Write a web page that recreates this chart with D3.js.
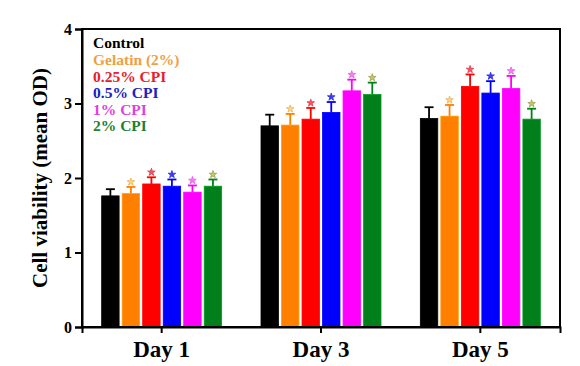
<!DOCTYPE html>
<html>
<head>
<meta charset="utf-8">
<script src="https://cdn.jsdelivr.net/npm/d3@7"></script>
<style>
  body { margin: 0; background: #fff; }
  svg text { font-family: "Liberation Serif", "DejaVu Serif", serif; font-weight: bold; }
</style>
</head>
<body>
<div id="chart"></div>
<script>
  var days = ['Day 1', 'Day 3', 'Day 5'];
  var groups = ['Control', 'Gelatin (2%)', '0.25% CPI', '0.5% CPI', '1% CPI', '2% CPI'];
  var barColors = ['#000000', '#ff7f00', '#ff0000', '#0000ff', '#ff00ff', '#007f1a'];
  var labelColors = ['#000000', '#f0a040', '#e8202a', '#2020c0', '#e040e0', '#208030'];
  var starColors = [null, '#e8b060', '#e04050', '#3030d0', '#e060e0', '#a0a050'];
  // mean OD per group, one array per day
  var day1 = [1.76, 1.79, 1.92, 1.89, 1.81, 1.89];
  var day3 = [2.70, 2.71, 2.79, 2.88, 3.17, 3.12];
  var day5 = [2.80, 2.83, 3.23, 3.14, 3.20, 2.79];
  var err1 = [0.09, 0.09, 0.09, 0.09, 0.09, 0.09];
  var err3 = [0.15, 0.15, 0.15, 0.14, 0.15, 0.16];
  var err5 = [0.15, 0.15, 0.16, 0.16, 0.17, 0.14];
  var yTicks = [0, 1, 2, 3, 4];

  var means = [day1, day3, day5];
  var errs = [err1, err3, err5];

  var width = 580, height = 366;
  var margin = { top: 29, right: 20, bottom: 39, left: 82 };
  var innerW = width - margin.left - margin.right;
  var innerH = height - margin.top - margin.bottom;

  var svg = d3.select('#chart').append('svg')
    .attr('width', width)
    .attr('height', height);

  var g = svg.append('g')
    .attr('transform', 'translate(' + margin.left + ',' + margin.top + ')');

  var x = d3.scaleBand().domain(days).range([0, innerW]).padding(0);
  var y = d3.scaleLinear().domain([0, 4]).range([innerH, 0]);

  var groupW = 120;
  var x1 = d3.scaleBand().domain(groups).range([0, groupW]).paddingInner(0.15).paddingOuter(0);

  // bars
  days.forEach(function (day, di) {
    var gx = x(day) + x.bandwidth() / 2 - groupW / 2;
    var dg = g.append('g').attr('transform', 'translate(' + gx + ',0)');

    groups.forEach(function (grp, gi) {
      var v = means[di][gi];
      var e = errs[di][gi];
      var bx = x1(grp);
      var bw = x1.bandwidth();
      var cx = bx + bw / 2;

      // error bar
      dg.append('line')
        .attr('x1', cx).attr('x2', cx)
        .attr('y1', y(v)).attr('y2', y(v + e))
        .attr('stroke', barColors[gi]).attr('stroke-width', 1.8);
      dg.append('line')
        .attr('x1', cx - 4.5).attr('x2', cx + 4.5)
        .attr('y1', y(v + e)).attr('y2', y(v + e))
        .attr('stroke', barColors[gi]).attr('stroke-width', 1.8);

      dg.append('rect')
        .attr('x', bx).attr('y', y(v))
        .attr('width', bw).attr('height', y(0) - y(v))
        .attr('fill', barColors[gi])
        .attr('stroke', d3.color(barColors[gi]).brighter(0.6))
        .attr('stroke-width', 0.8);

      // significance star
      if (starColors[gi]) {
        dg.append('path')
          .attr('d', d3.symbol(d3.symbolStar, 18)())
          .attr('transform', 'translate(' + cx + ',' + (y(v + e) - 5) + ')')
          .attr('fill', d3.color(starColors[gi]).brighter(0.6))
          .attr('stroke', starColors[gi])
          .attr('stroke-width', 0.8);
      }
    });
  });

  // frame
  g.append('rect')
    .attr('x', 0).attr('y', 0)
    .attr('width', innerW).attr('height', innerH)
    .attr('fill', 'none')
    .attr('stroke', '#000')
    .attr('stroke-width', 2);

  // y axis
  var yAxis = g.append('g')
    .call(d3.axisLeft(y).tickValues(yTicks).tickFormat(d3.format('d')).tickSize(7).tickPadding(3));
  yAxis.select('.domain').attr('stroke-width', 2);
  yAxis.selectAll('.tick line').attr('stroke-width', 2);
  yAxis.selectAll('.tick text')
    .attr('font-size', 16)
    .attr('font-family', '"Liberation Serif", serif')
    .attr('font-weight', 'bold')
    .attr('fill', '#000');

  // x axis
  var xAxis = g.append('g')
    .attr('transform', 'translate(0,' + innerH + ')')
    .call(d3.axisBottom(x).tickSize(6).tickPadding(8));
  xAxis.select('.domain').attr('stroke-width', 2);
  xAxis.selectAll('.tick line').attr('stroke-width', 2);
  xAxis.selectAll('.tick text')
    .attr('font-size', 23)
    .attr('font-family', '"Liberation Serif", serif')
    .attr('font-weight', 'bold')
    .attr('fill', '#000');

  // y label
  svg.append('text')
    .attr('transform', 'translate(47,' + (margin.top + innerH / 2) + ') rotate(-90)')
    .attr('text-anchor', 'middle')
    .attr('font-size', 21)
    .attr('fill', '#000')
    .text('Cell viability (mean OD)');

  // legend
  var legend = g.append('g').attr('transform', 'translate(11,14)');
  groups.forEach(function (grp, gi) {
    legend.append('text')
      .attr('x', 0)
      .attr('y', gi * 16.6)
      .attr('dy', '0.35em')
      .attr('font-size', 15.5)
      .attr('fill', labelColors[gi])
      .text(grp);
  });
</script>
</body>
</html>
